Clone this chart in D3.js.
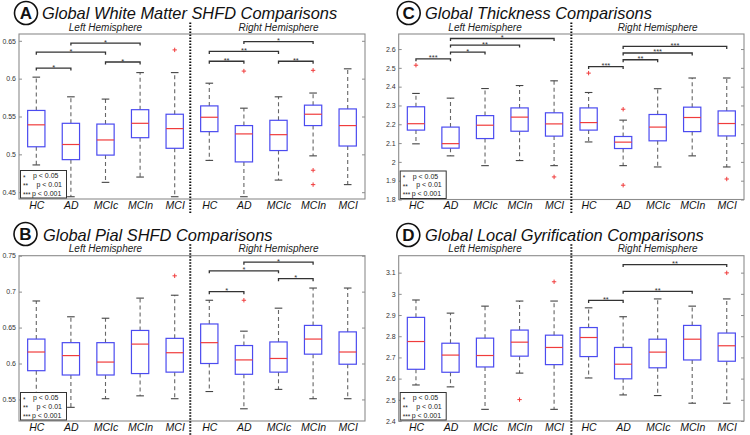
<!DOCTYPE html>
<html><head><meta charset="utf-8">
<script src="https://cdn.jsdelivr.net/npm/d3@7"></script>
<style>
body{margin:0;background:#fff;}
svg{display:block;font-family:"Liberation Sans",Arial,sans-serif;}
</style></head><body>
<svg id="chart" width="750" height="435"></svg>
<script>
// ---------- shared categories ----------
const groups = ["HC", "AD", "MCIc", "MCIn", "MCI"];
const hemispheres = ["Left Hemisphere", "Right Hemisphere"];
const positions = [1, 2, 3, 4, 5, 6, 7, 8, 9, 10];
const categories = groups.concat(groups);
const legendStars = ["*", "**", "***"];
const legendTexts = ["p < 0.05", "p < 0.01", "p < 0.001"];

// ---------- A: Global White Matter SHFD ----------
const wmUpper  = [0.602, 0.576, 0.573, 0.608, 0.608, 0.594, 0.561, 0.576, 0.581, 0.613];
const wmQ3     = [0.558, 0.541, 0.540, 0.559, 0.553, 0.564, 0.538, 0.545, 0.565, 0.560];
const wmMedian = [0.539, 0.513, 0.519, 0.541, 0.534, 0.549, 0.527, 0.526, 0.553, 0.538];
const wmQ1     = [0.510, 0.493, 0.499, 0.522, 0.508, 0.530, 0.490, 0.505, 0.538, 0.511];
const wmLower  = [0.486, 0.444, 0.463, 0.470, 0.444, 0.492, 0.444, 0.466, 0.498, 0.460];
const wmOutliers = [[5, 0.638], [7, 0.610], [9, 0.611], [9, 0.479], [9, 0.460]];
const wmComparisons = [[1, 2, "*", 0.614], [1, 3, "*", 0.635], [2, 4, "*", 0.647], [3, 4, "*", 0.622],
                       [6, 7, "**", 0.623], [6, 8, "**", 0.636], [7, 9, "*", 0.649], [8, 9, "**", 0.623]];
const wmTicks = [0.45, 0.5, 0.55, 0.6, 0.65];
const wmDomain = [0.441, 0.659];

// ---------- B: Global Pial SHFD ----------
const pialUpper  = [0.687, 0.665, 0.663, 0.691, 0.695, 0.688, 0.645, 0.677, 0.705, 0.705];
const pialQ3     = [0.634, 0.629, 0.629, 0.646, 0.635, 0.655, 0.625, 0.630, 0.653, 0.644];
const pialMedian = [0.616, 0.611, 0.602, 0.627, 0.615, 0.629, 0.605, 0.607, 0.634, 0.616];
const pialQ1     = [0.590, 0.584, 0.584, 0.586, 0.588, 0.600, 0.585, 0.588, 0.613, 0.599];
const pialLower  = [0.548, 0.539, 0.551, 0.555, 0.551, 0.561, 0.537, 0.564, 0.551, 0.551];
const pialOutliers = [[5, 0.722], [7, 0.688]];
const pialComparisons = [[6, 7, "*", 0.700], [6, 8, "*", 0.729], [7, 9, "*", 0.741], [8, 9, "*", 0.718]];
const pialTicks = [0.55, 0.6, 0.65, 0.7, 0.75];
const pialDomain = [0.52, 0.75];

// ---------- C: Global Thickness ----------
const thUpper  = [2.364, 2.339, 2.390, 2.406, 2.431, 2.369, 2.222, 2.389, 2.446, 2.446];
const thQ3     = [2.293, 2.185, 2.246, 2.287, 2.261, 2.287, 2.135, 2.252, 2.291, 2.271];
const thMedian = [2.203, 2.097, 2.195, 2.238, 2.202, 2.209, 2.105, 2.185, 2.236, 2.204];
const thQ1     = [2.169, 2.073, 2.124, 2.163, 2.137, 2.169, 2.071, 2.112, 2.161, 2.138];
const thLower  = [2.096, 2.032, 1.980, 2.007, 1.980, 2.106, 1.980, 1.973, 2.032, 1.973];
const thOutliers = [[1, 2.514], [5, 1.920], [6, 2.472], [7, 2.280], [7, 1.876], [10, 1.909]];
const thComparisons = [[1, 2, "***", 2.548], [2, 3, "*", 2.584], [2, 4, "**", 2.621], [2, 5, "*", 2.656],
                       [6, 7, "***", 2.507], [7, 8, "**", 2.543], [7, 9, "***", 2.579], [7, 10, "***", 2.614]];
const thTicks = [1.8, 1.9, 2, 2.1, 2.2, 2.3, 2.4, 2.5, 2.6];
const thDomain = [1.8, 2.68];

// ---------- D: Global Local Gyrification ----------
const gyUpper  = [2.971, 2.909, 2.942, 2.966, 2.966, 2.934, 2.892, 2.976, 2.942, 2.976];
const gyQ3     = [2.889, 2.767, 2.791, 2.829, 2.805, 2.841, 2.747, 2.786, 2.851, 2.815];
const gyMedian = [2.775, 2.711, 2.709, 2.772, 2.747, 2.794, 2.668, 2.725, 2.786, 2.755];
const gyQ1     = [2.644, 2.630, 2.655, 2.706, 2.666, 2.704, 2.599, 2.651, 2.688, 2.682];
const gyLower  = [2.570, 2.561, 2.455, 2.626, 2.455, 2.603, 2.523, 2.520, 2.484, 2.484];
const gyOutliers = [[4, 2.501], [5, 3.057], [10, 3.099]];
const gyComparisons = [[6, 7, "**", 2.969], [7, 9, "**", 3.012], [7, 10, "**", 3.138]];
const gyTicks = [2.4, 2.5, 2.6, 2.7, 2.8, 2.9, 3, 3.1];
const gyDomain = [2.4, 3.18];

// ---------- panel layout ----------
const panels = [
  {letter: "A", title: "Global White Matter SHFD Comparisons",
   upper: wmUpper, q3: wmQ3, median: wmMedian, q1: wmQ1, lower: wmLower,
   outliers: wmOutliers, comparisons: wmComparisons, ticks: wmTicks, domain: wmDomain,
   frame: {left: 19, right: 365, top: 34, bottom: 199}, circle: [26, 13], titleX: 42, titleY: 19, divider: 5.45},
  {letter: "B", title: "Global Pial SHFD Comparisons",
   upper: pialUpper, q3: pialQ3, median: pialMedian, q1: pialQ1, lower: pialLower,
   outliers: pialOutliers, comparisons: pialComparisons, ticks: pialTicks, domain: pialDomain,
   frame: {left: 19, right: 365, top: 255.7, bottom: 421}, circle: [25.5, 234], titleX: 43, titleY: 241, divider: 5.45},
  {letter: "C", title: "Global Thickness Comparisons",
   upper: thUpper, q3: thQ3, median: thMedian, q1: thQ1, lower: thLower,
   outliers: thOutliers, comparisons: thComparisons, ticks: thTicks, domain: thDomain,
   frame: {left: 398.7, right: 744, top: 34, bottom: 199.5}, circle: [408.7, 13], titleX: 425, titleY: 19.3, divider: 5.5},
  {letter: "D", title: "Global Local Gyrification Comparisons",
   upper: gyUpper, q3: gyQ3, median: gyMedian, q1: gyQ1, lower: gyLower,
   outliers: gyOutliers, comparisons: gyComparisons, ticks: gyTicks, domain: gyDomain,
   frame: {left: 398.7, right: 744, top: 255.7, bottom: 421}, circle: [408.3, 235], titleX: 425, titleY: 241, divider: 5.5}
];

const svg = d3.select("#chart");
const fmt = d3.format("~g");

panels.forEach(p => {
  const f = p.frame;
  const g = svg.append("g");
  const x = d3.scaleLinear().domain([0.5, 10.5]).range([f.left, f.right]);
  const y = d3.scaleLinear().domain(p.domain).range([f.bottom, f.top]);
  const unit = x(1) - x(0);
  const boxW = unit * 0.5;
  const capHalf = unit * 0.11;

  // title + circled letter
  g.append("circle").attr("cx", p.circle[0]).attr("cy", p.circle[1]).attr("r", 11.5)
    .attr("fill", "#fff").attr("stroke", "#111").attr("stroke-width", 1.6);
  g.append("text").attr("x", p.circle[0]).attr("y", p.circle[1] + 6)
    .attr("text-anchor", "middle").attr("font-size", 17).attr("font-weight", "bold")
    .attr("fill", "#111").text(p.letter);
  g.append("text").attr("x", p.titleX).attr("y", p.titleY)
    .attr("font-size", 16.4).attr("font-style", "italic").attr("fill", "#111").text(p.title);

  // frame
  g.append("rect").attr("x", f.left).attr("y", f.top)
    .attr("width", f.right - f.left).attr("height", f.bottom - f.top)
    .attr("fill", "none").attr("stroke", "#8c8c8c").attr("stroke-width", 1.1);

  // y axes (inward ticks on both sides)
  const ax = g.append("g").attr("transform", `translate(${f.left},0)`)
    .call(d3.axisLeft(y).tickValues(p.ticks).tickSize(-3).tickPadding(3).tickFormat(fmt));
  ax.select(".domain").remove();
  ax.selectAll("line").attr("stroke", "#8c8c8c");
  ax.selectAll("text").attr("font-size", 7).attr("fill", "#333").attr("font-family", "Liberation Sans, Arial, sans-serif");
  const axr = g.append("g").attr("transform", `translate(${f.right},0)`)
    .call(d3.axisRight(y).tickValues(p.ticks).tickSize(-3).tickFormat(""));
  axr.select(".domain").remove();
  axr.selectAll("line").attr("stroke", "#8c8c8c");

  // category labels
  const bx = g.append("g").attr("transform", `translate(0,${f.bottom})`)
    .call(d3.axisBottom(x).tickValues(positions).tickSize(0).tickPadding(2.5).tickFormat(d => categories[d - 1]));
  bx.select(".domain").remove();
  bx.selectAll("text").attr("font-size", 10.5).attr("font-style", "italic").attr("fill", "#111")
    .attr("font-family", "Liberation Sans, Arial, sans-serif");

  // hemisphere labels
  g.selectAll(".hemi").data(hemispheres).enter().append("text")
    .attr("x", (d, i) => x(3 + 5 * i)).attr("y", f.top - 3.5)
    .attr("text-anchor", "middle").attr("font-size", 10).attr("font-style", "italic")
    .attr("fill", "#222").text(d => d);

  // divider
  g.append("line").attr("x1", x(p.divider)).attr("x2", x(p.divider))
    .attr("y1", f.top - 11.5).attr("y2", f.bottom + 14.5)
    .attr("stroke", "#111").attr("stroke-width", 2).attr("stroke-dasharray", "1.6,1.4");

  // whiskers
  const idx = d3.range(positions.length);
  g.selectAll(".wu").data(idx).enter().append("line")
    .attr("x1", i => x(positions[i])).attr("x2", i => x(positions[i]))
    .attr("y1", i => y(p.q3[i])).attr("y2", i => y(p.upper[i]))
    .attr("stroke", "#666").attr("stroke-width", 1.1).attr("stroke-dasharray", "4,3");
  g.selectAll(".wl").data(idx).enter().append("line")
    .attr("x1", i => x(positions[i])).attr("x2", i => x(positions[i]))
    .attr("y1", i => y(p.q1[i])).attr("y2", i => y(p.lower[i]))
    .attr("stroke", "#666").attr("stroke-width", 1.1).attr("stroke-dasharray", "4,3");
  // caps
  ["upper", "lower"].forEach(k => {
    g.selectAll(".cap" + k).data(idx).enter().append("line")
      .attr("x1", i => x(positions[i]) - capHalf).attr("x2", i => x(positions[i]) + capHalf)
      .attr("y1", i => y(p[k][i])).attr("y2", i => y(p[k][i]))
      .attr("stroke", "#444").attr("stroke-width", 1.1);
  });
  // boxes
  g.selectAll(".box").data(idx).enter().append("rect")
    .attr("x", i => x(positions[i]) - boxW / 2).attr("width", boxW)
    .attr("y", i => y(p.q3[i])).attr("height", i => y(p.q1[i]) - y(p.q3[i]))
    .attr("fill", "none").attr("stroke", "#4b4bf0").attr("stroke-width", 1.2);
  // medians
  g.selectAll(".med").data(idx).enter().append("line")
    .attr("x1", i => x(positions[i]) - boxW / 2).attr("x2", i => x(positions[i]) + boxW / 2)
    .attr("y1", i => y(p.median[i])).attr("y2", i => y(p.median[i]))
    .attr("stroke", "#f03c3c").attr("stroke-width", 1.2);
  // outliers
  g.selectAll(".out").data(p.outliers).enter().append("path")
    .attr("d", d => {
      const cx = x(d[0]), cy = y(d[1]), s = 2.2;
      return `M${cx - s},${cy}H${cx + s}M${cx},${cy - s}V${cy + s}`;
    })
    .attr("stroke", "#f03c3c").attr("stroke-width", 1).attr("fill", "none");

  // significance brackets
  const cg = g.selectAll(".cmp").data(p.comparisons).enter().append("g");
  cg.append("path")
    .attr("d", d => {
      const x1 = x(d[0]), x2 = x(d[1]), yy = y(d[3]);
      return `M${x1},${yy + 2.5}V${yy}H${x2}V${yy + 2.5}`;
    })
    .attr("fill", "none").attr("stroke", "#333").attr("stroke-width", 1.3);
  cg.append("text")
    .attr("x", d => (x(d[0]) + x(d[1])) / 2).attr("y", d => y(d[3]) + 1.5)
    .attr("text-anchor", "middle").attr("font-size", 7.5).attr("fill", "#333").text(d => d[2]);

  // legend
  const lx = f.left + 1.5, ly = f.bottom - 28.5;
  const lg = g.append("g");
  lg.append("rect").attr("x", lx).attr("y", ly).attr("width", 46).attr("height", 27.5)
    .attr("fill", "#fff").attr("stroke", "#333").attr("stroke-width", 1);
  const pOff = [12.5, 16, 11.5];
  lg.selectAll(".ls").data(legendStars).enter().append("text")
    .attr("x", lx + 2.5).attr("y", (d, i) => ly + 9 + i * 8.6)
    .attr("font-size", 6.5).attr("fill", "#222").text(d => d);
  lg.selectAll(".lt").data(legendTexts).enter().append("text")
    .attr("x", (d, i) => lx + pOff[i]).attr("y", (d, i) => ly + 7.8 + i * 8.6)
    .attr("font-size", 7).attr("fill", "#222").text(d => d);
});
</script>
</body></html>
